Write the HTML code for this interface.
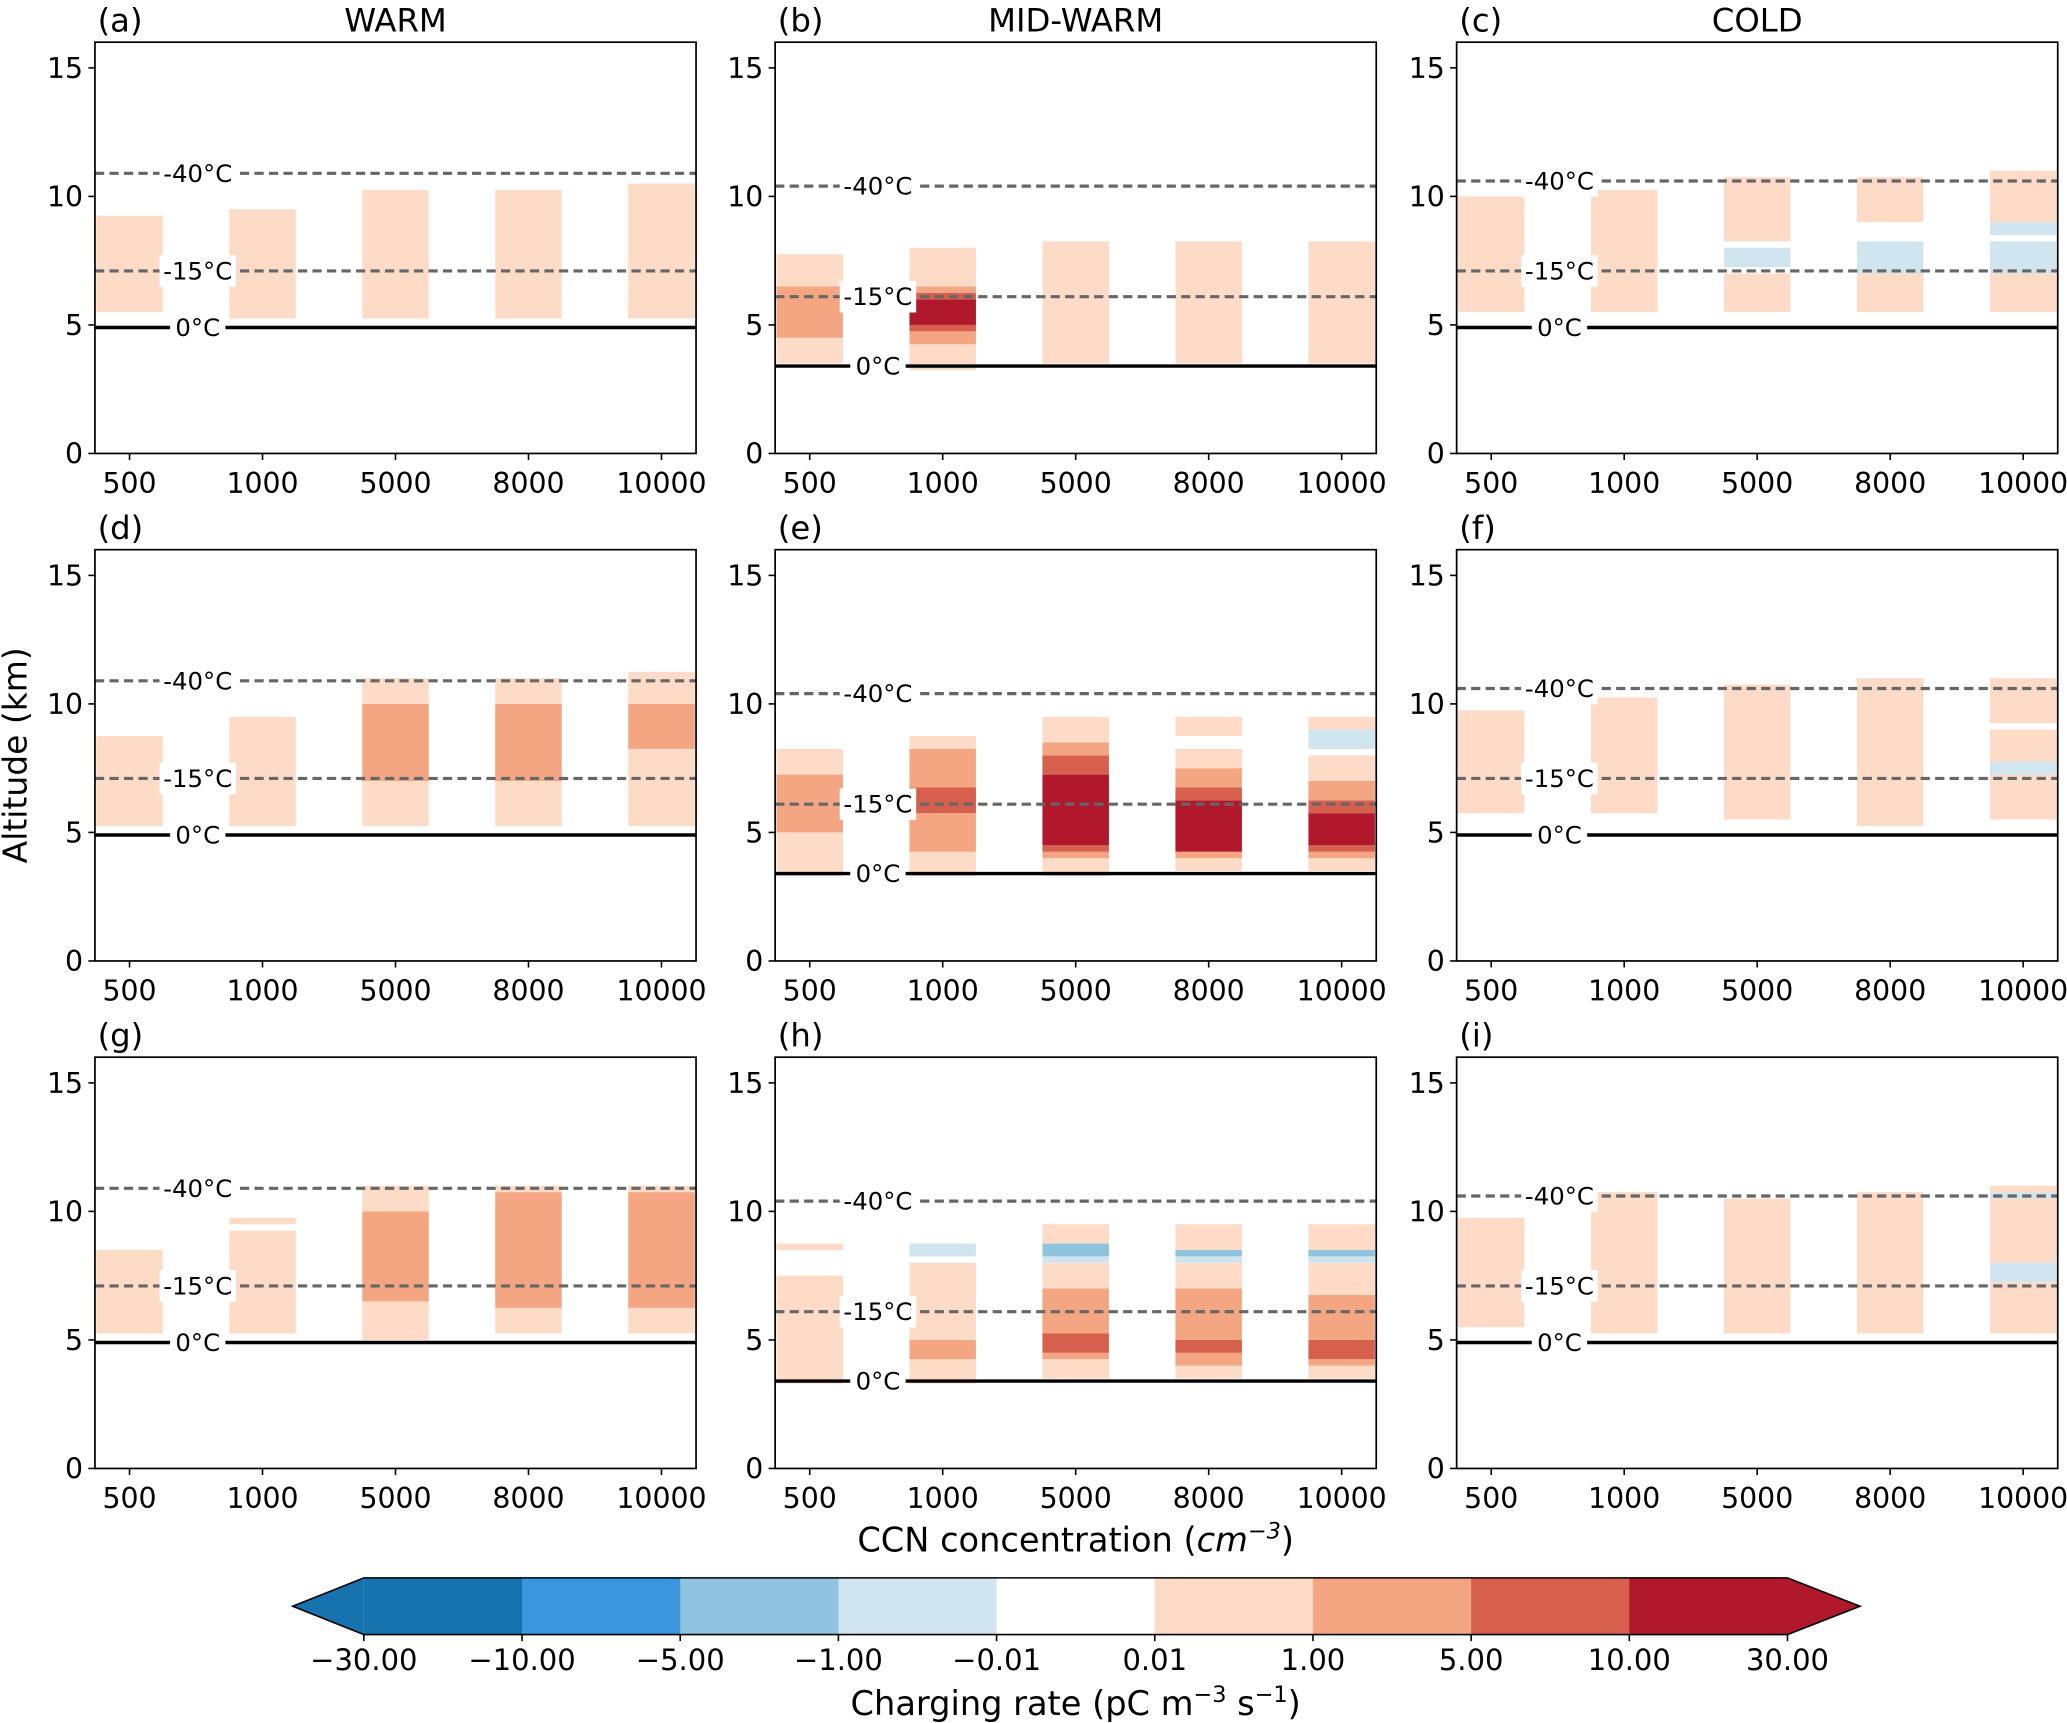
<!DOCTYPE html>
<html><head><meta charset="utf-8"><style>
html,body{margin:0;padding:0;background:#fff;}
svg{display:block;}
text{font-family:"DejaVu Sans","Liberation Sans",sans-serif;fill:#000;}
</style></head><body>
<svg id="fig" width="2067" height="1723" viewBox="0 0 1568 1307.1" xmlns="http://www.w3.org/2000/svg"></svg>
<script>
const categories = ["500","1000","5000","8000","10000"];
const yTicks = [0,5,10,15];
const colTitles = ["WARM","MID-WARM","COLD"];
const panelLetters = ["a","b","c","d","e","f","g","h","i"];
const isoWarm = [10.9,7.1,4.9];
const isoMid = [10.4,6.1,3.4];
const isoCold = [10.6,7.1,4.9];
const isoLabels = ["-40°C","-15°C","0°C"];
const cbBounds = [-30,-10,-5,-1,-0.01,0.01,1,5,10,30];
const cbLabels = ["\u221230.00","\u221210.00","\u22125.00","\u22121.00","\u22120.01","0.01","1.00","5.00","10.00","30.00"];
const cbColors = ["#1673ad","#3a96dd","#8fc3de","#d1e5f0","#ffffff","#fddbc7","#f4a582","#d6604d","#b2182b"];
// segments: [bottom km, top km, charging rate value]
const segA = [[[5.5,9.25,.5]],[[5.25,9.5,.5]],[[5.25,10.25,.5]],[[5.25,10.25,.5]],[[5.25,10.5,.5]]];
const segB = [[[3.5,4.5,.5],[4.5,6.5,3],[6.5,7.75,.5]],
 [[3.25,4.25,.5],[4.25,4.75,3],[4.75,5,7],[5,6,20],[6,6.25,7],[6.25,6.5,3],[6.5,8,.5]],
 [[3.5,8.25,.5]],[[3.5,8.25,.5]],[[3.5,8.25,.5]]];
const segC = [[[5.5,10,.5]],[[5.5,10.25,.5]],
 [[5.5,7,.5],[7.25,8,-.5],[8.25,10.75,.5]],
 [[5.5,7,.5],[7,8.25,-.5],[9,10.75,.5]],
 [[5.5,7,.5],[7,8.25,-.5],[8.5,9,-.5],[9,11,.5]]];
const segD = [[[5.25,8.75,.5]],[[5.25,9.5,.5]],
 [[5.25,7,.5],[7,10,3],[10,11,.5]],
 [[5.25,7,.5],[7,10,3],[10,11,.5]],
 [[5.25,8.25,.5],[8.25,10,3],[10,11.25,.5]]];
const segE = [[[3.3,5,.5],[5,7.25,3],[7.25,8.25,.5]],
 [[3.3,4.25,.5],[4.25,5.75,3],[5.75,6.75,7],[6.75,8.25,3],[8.25,8.75,.5]],
 [[3.3,4,.5],[4,4.25,3],[4.25,4.5,7],[4.5,7.25,20],[7.25,8,7],[8,8.5,3],[8.5,9.5,.5]],
 [[3.5,4,.5],[4,4.25,3],[4.25,6.25,20],[6.25,6.75,7],[6.75,7.5,3],[7.5,8.25,.5],[8.75,9.5,.5]],
 [[3.5,4,.5],[4,4.25,3],[4.25,4.5,7],[4.5,5.75,20],[5.75,6.25,7],[6.25,7,3],[7,8,.5],[8.25,9,-.5],[9,9.5,.5]]];
const segF = [[[5.75,9.75,.5]],[[5.75,10.25,.5]],[[5.5,10.75,.5]],[[5.25,11,.5]],
 [[5.5,7.25,.5],[7.25,7.75,-.5],[7.75,9,.5],[9.25,11,.5]]];
const segG = [[[5.25,8.5,.5]],[[5.25,9.25,.5],[9.5,9.75,.5]],
 [[5,6.5,.5],[6.5,10,3],[10,11,.5]],
 [[5.25,6.25,.5],[6.25,10.75,3],[10.75,11,.5]],
 [[5.25,6.25,.5],[6.25,10.75,3],[10.75,11,.5]]];
const segH = [[[3.3,7.5,.5],[8.5,8.75,.5]],
 [[3.3,4.25,.5],[4.25,5,3],[5,8,.5],[8.25,8.75,-.5]],
 [[3.5,4.25,.5],[4.25,4.5,3],[4.5,5.25,7],[5.25,7,3],[7,8,.5],[8,8.25,-.5],[8.25,8.75,-3],[8.75,9.5,.5]],
 [[3.5,4,.5],[4,4.5,3],[4.5,5,7],[5,7,3],[7,8,.5],[8,8.25,-.5],[8.25,8.5,-3],[8.5,9.5,.5]],
 [[3.5,4,.5],[4,4.25,3],[4.25,5,7],[5,6.75,3],[6.75,8,.5],[8,8.25,-.5],[8.25,8.5,-3],[8.5,9.5,.5]]];
const segI = [[[5.5,9.75,.5]],[[5.25,10.75,.5]],[[5.25,10.5,.5]],[[5.25,10.75,.5]],
 [[5.25,7.25,.5],[7.25,8,-.5],[8,10.5,.5],[10.5,10.75,-.5],[10.75,11,.5]]];

const panels = [segA,segB,segC,segD,segE,segF,segG,segH,segI];
const isos = [isoWarm,isoMid,isoCold];

const NS = "http://www.w3.org/2000/svg";
const svg = document.getElementById("fig");
function mk(tag, attrs, parent, txt){
  const e = document.createElementNS(NS, tag);
  for (const k in attrs) e.setAttribute(k, attrs[k]);
  if (txt !== undefined) e.textContent = txt;
  (parent||svg).appendChild(e);
  return e;
}
function colorFor(v){
  for (let i=0;i<cbColors.length;i++){ if (v>=cbBounds[i] && v<cbBounds[i+1]) return cbColors[i]; }
  return v<0 ? cbColors[0] : cbColors[cbColors.length-1];
}
const colX = [72,588,1105], rowY = [32,417,802], PW = 456, PH = 312;
const YMAX = 16, XMIN = -0.26, XMAX = 4.26;

for (let p=0;p<9;p++){
  const c = p%3, r = Math.floor(p/3);
  const x0 = colX[c], y0 = rowY[r];
  const sx = v => x0 + (v - XMIN)/(XMAX-XMIN)*PW;
  const sy = v => y0 + PH - v/YMAX*PH;
  const g = mk("g",{});
  
  
  const clipId = "clip"+p;
  const cp = mk("clipPath",{id:clipId},g);
  mk("rect",{x:x0,y:y0,width:PW,height:PH},cp);
  const plot = mk("g",{"clip-path":"url(#"+clipId+")"},g);
  panels[p].forEach((segs,i)=>{
    segs.forEach(s=>{
      const rc = mk("rect",{x:sx(i-0.25),y:sy(s[1]),width:sx(i+0.25)-sx(i-0.25),height:sy(s[0])-sy(s[1]),fill:colorFor(s[2])},plot);
      
      
    });
  });
  const iso = isos[c];
  iso.forEach((h,k)=>{
    const y = sy(h);
    const ln = mk("line",{x1:x0,x2:x0+PW,y1:y,y2:y,stroke:k==2?"#000":"#666","stroke-width":k==2?2.6:2.4,"stroke-dasharray":k==2?"none":"7,4"},plot);
    
    
    const w = k==2?38:54;
    mk("rect",{x:x0+78-w/2-2,y:y-12,width:w+4,height:24,fill:"#fff"},plot);
    const t = mk("text",{x:x0+78,y:y+6.5,"text-anchor":"middle","font-size":18.5},plot,isoLabels[k]);
    
    
  });
  mk("rect",{x:x0,y:y0,width:PW,height:PH,fill:"none",stroke:"#000","stroke-width":1.3},g);
  yTicks.forEach(v=>{
    const y = sy(v);
    mk("line",{x1:x0-5,x2:x0,y1:y,y2:y,stroke:"#000","stroke-width":1.2},g);
    const t = mk("text",{x:x0-9,y:y+7.5,"text-anchor":"end","font-size":21.5},g,String(v));
    
    
  });
  categories.forEach((lab,i)=>{
    const x = sx(i);
    mk("line",{x1:x,x2:x,y1:y0+PH,y2:y0+PH+5,stroke:"#000","stroke-width":1.2},g);
    const t = mk("text",{x:x,y:y0+PH+30,"text-anchor":"middle","font-size":21.5},g,lab);
    
    
  });
  const pl = mk("text",{x:x0+2,y:y0-8,"font-size":24.5},g,"("+panelLetters[p]+")");
  
  
  if (r==0){
    const tt = mk("text",{x:x0+PW/2,y:y0-8,"text-anchor":"middle","font-size":24.5},g,colTitles[c]);
    
    
  }
}
const yt = mk("text",{x:0,y:0,transform:"translate(20,573) rotate(-90)","text-anchor":"middle","font-size":25},svg,"Altitude (km)");


const xt = mk("text",{x:816,y:1177,"text-anchor":"middle","font-size":25.5},svg);


xt.innerHTML = 'CCN concentration (<tspan font-style="italic">cm</tspan><tspan font-style="italic" font-size="17" dy="-10">\u22123</tspan><tspan dy="10">)</tspan>';

const cb = mk("g",{});


const cbX0 = 276, cbX1 = 1356, cbY0 = 1197, cbY1 = 1240;
const cbStep = (cbX1-cbX0)/cbColors.length;
mk("polygon",{points:`${cbX0},${cbY0} 222,${(cbY0+cbY1)/2} ${cbX0},${cbY1}`,fill:cbColors[0]},cb);
mk("polygon",{points:`${cbX1},${cbY0} 1411,${(cbY0+cbY1)/2} ${cbX1},${cbY1}`,fill:cbColors[cbColors.length-1]},cb);
cbColors.forEach((col,i)=>{
  const rc = mk("rect",{x:cbX0+i*cbStep,y:cbY0,width:cbStep+0.5,height:cbY1-cbY0,fill:col},cb);
  
  
});
mk("polygon",{points:`222,${(cbY0+cbY1)/2} ${cbX0},${cbY0} ${cbX1},${cbY0} 1411,${(cbY0+cbY1)/2} ${cbX1},${cbY1} ${cbX0},${cbY1}`,fill:"none",stroke:"#000","stroke-width":1.2},cb);
cbLabels.forEach((lab,i)=>{
  const x = cbX0+i*cbStep;
  mk("line",{x1:x,x2:x,y1:cbY1,y2:cbY1+5,stroke:"#000","stroke-width":1.2},cb);
  const t = mk("text",{x:x,y:cbY1+27,"text-anchor":"middle","font-size":22},cb,lab);
  
  
});
const ct = mk("text",{x:816,y:1301,"text-anchor":"middle","font-size":25.5},svg);


ct.innerHTML = 'Charging rate (pC m<tspan font-size="17" dy="-10">\u22123</tspan><tspan dy="10"> s</tspan><tspan font-size="17" dy="-10">\u22121</tspan><tspan dy="10">)</tspan>';
</script>
</body></html>
